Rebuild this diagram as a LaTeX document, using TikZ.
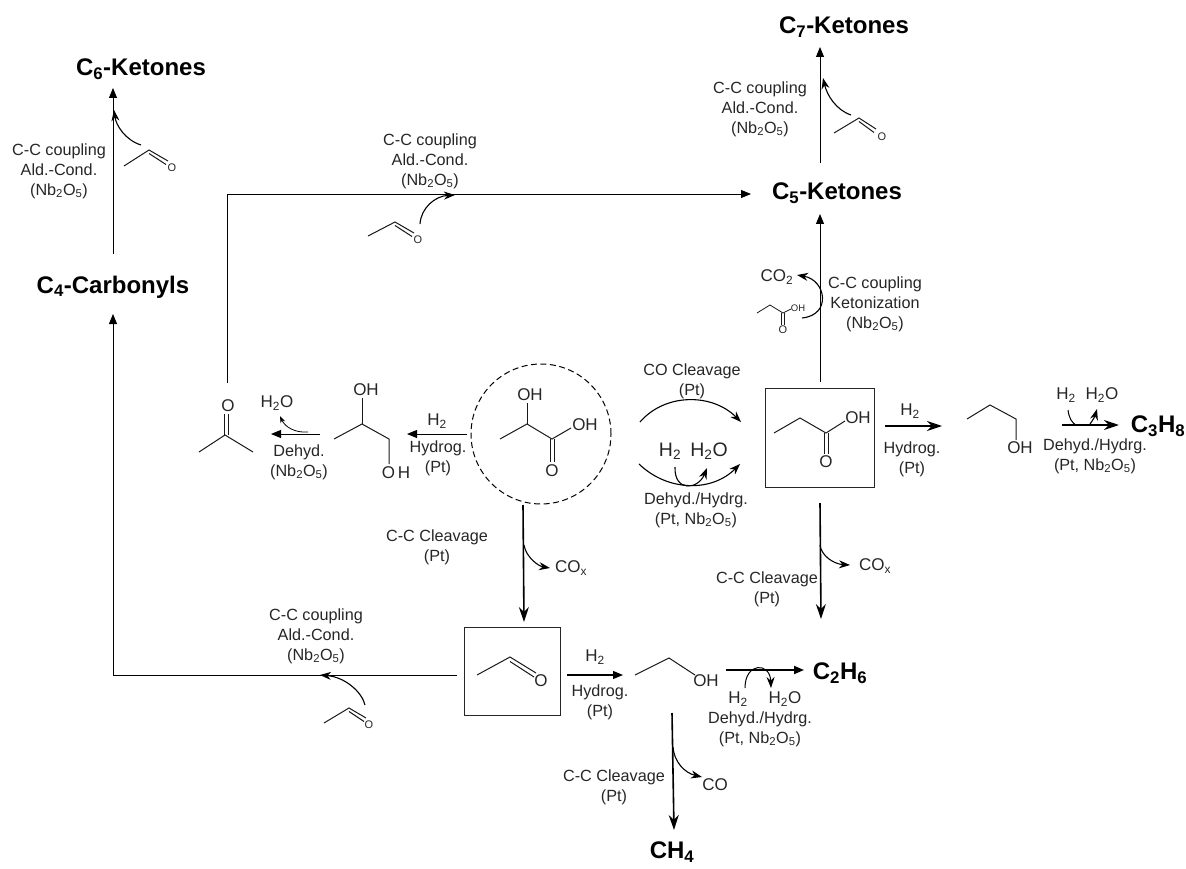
\documentclass[tikz,border=0pt]{standalone}
\usepackage{fontspec}
\setmainfont{Liberation Sans}
\usetikzlibrary{arrows.meta}
\newcommand{\sub}[1]{\textsubscript{#1}}
\tikzset{
 lab/.style={inner sep=0pt,align=center,font=\fontsize{16.2}{20}\selectfont,text=black!85},
 chem/.style={inner sep=0pt,font=\fontsize{17}{18}\selectfont,text=black!85},
 chemb/.style={inner sep=0pt,font=\fontsize{19.5}{20}\selectfont,text=black!85},
 atom/.style={inner sep=0pt,font=\fontsize{17}{18}\selectfont,text=black!85},
 atoms/.style={inner sep=0pt,font=\fontsize{11}{12}\selectfont,text=black!85},
 prod/.style={inner sep=0pt,font=\bfseries\fontsize{24}{28}\selectfont,text=black},
 bond/.style={line width=1pt,black!90},
 arr/.style={line width=.9pt,black,-{Triangle[length=10pt,width=8pt]}},
 arrb/.style={line width=2pt,black,-{Stealth[length=15pt,width=10pt]}},
 arrc/.style={line width=1.1pt,black,-{Stealth[length=11pt,width=8pt]}},
 arrs/.style={line width=.8pt,black,-{Stealth[length=7pt,width=5pt]}},
 boxn/.style={draw=black!85,line width=1pt,inner sep=0pt,fill=none},
}
\begin{document}
\begin{tikzpicture}[x=1pt,y=-1pt]
\useasboundingbox (0,0) rectangle (1186,869);
% ---- products
\node[prod] (c6) at (141,69) {C\sub{6}-Ketones};
\node[prod] (c4) at (113,287) {C\sub{4}-Carbonyls};
\node[prod] (c7) at (844,27) {C\sub{7}-Ketones};
\node[prod] (c5) at (837,193) {C\sub{5}-Ketones};
\node[prod] (c3h8) at (1158,426) {C\sub{3}H\sub{8}};
\node[prod] (c2h6) at (840,673) {C\sub{2}H\sub{6}};
\node[prod] (ch4) at (672,852) {CH\sub{4}};
% ---- frames
\node[boxn,minimum width=109pt,minimum height=99pt] (pabox) at (819.5,437.5) {};
\node[boxn,minimum width=96pt,minimum height=88pt] (acbox) at (512,671) {};
\node[draw=black,line width=1pt,dash pattern=on 6pt off 3.5pt,circle,minimum size=140pt,inner sep=0pt] (la) at (541,434) {};
% ---- labels
\node[lab] (l1) at (59,171) {C-C coupling\\Ald.-Cond.\\(Nb\sub{2}O\sub{5})};
\node[lab] (l2) at (430,161) {C-C coupling\\Ald.-Cond.\\(Nb\sub{2}O\sub{5})};
\node[lab] (l3) at (760,109) {C-C coupling\\Ald.-Cond.\\(Nb\sub{2}O\sub{5})};
\node[lab] (l4) at (875,304) {C-C coupling\\Ketonization\\(Nb\sub{2}O\sub{5})};
\node[lab] (l5) at (692,381) {CO Cleavage\\(Pt)};
\node[lab] (l6) at (696,510) {Dehyd./Hydrg.\\(Pt, Nb\sub{2}O\sub{5})};
\node[lab] (l7) at (438,458) {Hydrog.\\(Pt)};
\node[lab] (l8) at (299,462) {Dehyd.\\(Nb\sub{2}O\sub{5})};
\node[lab] (l9) at (437,547) {C-C Cleavage\\(Pt)};
\node[lab] (l10) at (767,589) {C-C Cleavage\\(Pt)};
\node[lab] (l11) at (316,636) {C-C coupling\\Ald.-Cond.\\(Nb\sub{2}O\sub{5})};
\node[lab] (l12) at (600,702) {Hydrog.\\(Pt)};
\node[lab] (l13) at (760,729) {Dehyd./Hydrg.\\(Pt, Nb\sub{2}O\sub{5})};
\node[lab] (l14) at (614,787) {C-C Cleavage\\(Pt)};
\node[lab] (l15) at (912,459) {Hydrog.\\(Pt)};
\node[lab] (l16) at (1095,456) {Dehyd./Hydrg.\\(Pt, Nb\sub{2}O\sub{5})};
% ---- small species
\node[chem] (h2a) at (437,421) {H\sub{2}};
\node[chem] (w1) at (277,403) {H\sub{2}O};
\node[chem] (co2) at (777,277) {CO\sub{2}};
\node[chemb] (h2b) at (670,451) {H\sub{2}};
\node[chemb] (w2) at (709,451) {H\sub{2}O};
\node[chem] (h2c) at (910,411) {H\sub{2}};
\node[chem] (h2d) at (1066,395) {H\sub{2}};
\node[chem] (w3) at (1102,395) {H\sub{2}O};
\node[chem] (cox1) at (571,568) {CO\sub{x}};
\node[chem] (cox2) at (875,566) {CO\sub{x}};
\node[chem] (h2e) at (595,657) {H\sub{2}};
\node[chem] (h2f) at (738,699) {H\sub{2}};
\node[chem] (w4) at (785,699) {H\sub{2}O};
\node[chem] (co) at (715,785) {CO};
% ---- main connector ends
\foreach \n/\x/\y in {a1/113/254,a2/113/88,b1/227/383,b2/227/194,b3/751/194,
 c1/820/163,c2/820/47,d1/820/382,d2/820/214,e1/457/675,e2/113/675,e3/113/314,
 f1/467/434,f2/407/434,g1/320/434,g2/271/434,h1/523/505,h2/524/622,i1/820/503,i2/821/619,
 j1/567/675,j2/623/675,k1/726/670,k2/804/670,m1/672/713,m2/674/830,n1/885/426,n2/942/426,
 o1/1062/425,o2/1119/425,p1/640/422,p2/741/422,q1/639/464,q2/740/464}
 {\coordinate (\n) at (\x,\y);}
\draw[arr] (a1) -- (a2);
\draw[arr] (b1) -- (b2) -- (b3);
\draw[arr] (c1) -- (c2);
\draw[arr] (d1) -- (d2);
\draw[arr] (e1) -- (e2) -- (e3);
\draw[arr] (f1) -- (f2);
\draw[arr] (g1) -- (g2);
\draw[arrb,line width=1.6pt] (h1) -- (h2);
\draw[arrb,line width=1.6pt] (i1) -- (i2);
\draw[arr,line width=1.1pt] (j1) -- (j2);
\draw[arr,line width=1.8pt] (k1) -- (k2);
\draw[arrb,line width=1.6pt] (m1) -- (m2);
\draw[arrb,line width=1.8pt] (n1) -- (n2);
\draw[arrb,line width=2.4pt] (o1) -- (o2);
\draw[arrc] (p1) .. controls (665,393) and (712,393) .. (p2);
\draw[arrc] (q1) .. controls (668,492) and (712,492) .. (q2);
% ---- curved side arrows
\foreach \n/\x/\y in {s1/141/145,s2/114/110,s3/420/224,s4/455/195,s5/851/115,s6/823/78,
 s7/802/318,s8/797/275,s9/308/432,s10/280/416,s11/675/467,s12/707/468,s13/524/545,s14/550/568,
 s15/820/545,s16/850/565,s17/365/705,s18/320/675,s19/745/688,s20/771/688,s21/673/747,s22/702/777,
 s23/1068/410,s24/1076/425,s25/1090/424,s26/1097/409}
 {\coordinate (\n) at (\x,\y);}
\draw[arrc] (s1) .. controls (125,140) and (116,125) .. (s2);
\draw[arrc] (s3) .. controls (421,208) and (435,196) .. (s4);
\draw[arrc] (s5) .. controls (836,110) and (827,95) .. (s6);
\draw[arrc] (s7) .. controls (832,315) and (826,280) .. (s8);
\draw[arrs] (s9) .. controls (295,433) and (285,427) .. (s10);
\draw[arrc] (s11) .. controls (674,492) and (698,490) .. (s12);
\draw[arrc] (s13) .. controls (526,557) and (538,566) .. (s14);
\draw[arrc] (s15) .. controls (821,555) and (833,564) .. (s16);
\draw[arrc] (s17) .. controls (362,692) and (345,677) .. (s18);
\draw[arrc,line width=1pt] (s19) .. controls (745,662) and (770,662) .. (s20);
\draw[arrc] (s21) .. controls (674,762) and (685,773) .. (s22);
\draw[line width=1pt] (s23) .. controls (1069,418) and (1072,423) .. (s24);
\draw[arrc] (s25) .. controls (1093,420) and (1095,416) .. (s26);
% ---- small acetaldehyde molecules
\foreach \p/\a/\b/\c/\d/\e/\f/\ox/\oy in {
 x1/124/166/149/150/168/161/172/168,
 x2/368/236/395/222/414/233/418/240,
 x3/834/133/859/118/876/129/882/137,
 x4/324/723/349/708/366/718/369/725}{
 \node[atoms] (\p o) at (\ox,\oy) {O};
 \draw[bond] (\a,\b) -- (\c,\d) -- (\e,\f);
 \draw[bond] (\c,\d+3.5) -- (\e-2,\f+3.5);
}
% ---- acetaldehyde in box
\node[atom] (oac) at (541,681) {O};
\draw[bond] (477,675) -- (510,657) -- (536,673);
\draw[bond] (510,661.5) -- (534,677);
% ---- propionic acid in box
\node[atom] (oh1) at (858,418) {OH};
\node[atom] (o1) at (826,462) {O};
\draw[bond] (774,433) -- (800,418) -- (826,433) -- (845,421);
\draw[bond] (824,433) -- (824,454) (828,433) -- (828,454);
% ---- small propionic acid
\node[atoms,font=\fontsize{9.5}{10}\selectfont] (oh2) at (798,308) {OH};
\node[atoms] (o2) at (783,330) {O};
\draw[bond,line width=.8pt] (757,313) -- (770,305) -- (783,313) -- (791,309);
\draw[bond,line width=.8pt] (781.5,313) -- (781.5,325) (784.5,313) -- (784.5,325);
% ---- lactic acid
\node[atom] (oh3) at (530,395) {OH};
\node[atom] (oh4) at (585,425) {OH};
\node[atom] (o3) at (552,471) {O};
\draw[bond] (500,439) -- (527,424) -- (552,439) -- (571,428);
\draw[bond] (527,424) -- (527,403);
\draw[bond] (550,439) -- (550,462) (554,439) -- (554,462);
% ---- propanediol
\node[atom] (oh5) at (366,390) {OH};
\node[atom] (oh6) at (396,473) {O\,H};
\draw[bond] (334,439) -- (362,424) -- (389,439) -- (389,464);
\draw[bond] (362,424) -- (362,398);
% ---- acetone
\node[atom] (o4) at (228,406) {O};
\draw[bond] (199,452) -- (225,435) -- (253,452);
\draw[bond] (224,435) -- (224,414) (228,435) -- (228,414);
% ---- ethanol
\node[atom] (oh7) at (706,681) {OH};
\draw[bond] (635,675) -- (669,658) -- (695,675);
% ---- propanol
\node[atom] (oh8) at (1020,448) {OH};
\draw[bond] (967,419) -- (990,405) -- (1016,419) -- (1016,440);
\end{tikzpicture}
\end{document}
